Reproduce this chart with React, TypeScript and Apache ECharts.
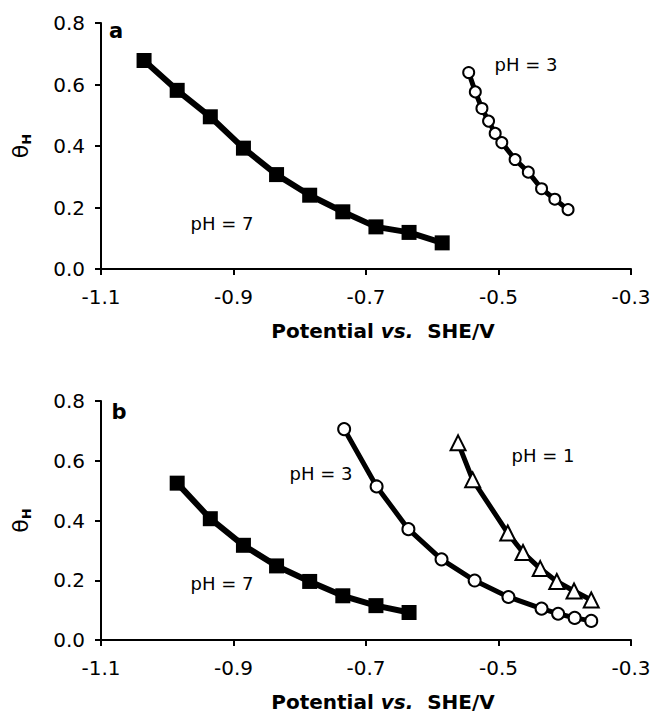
import React, { useEffect, useRef } from "react";
import * as echarts from "echarts";

// Panel a
const aPH7X = [-1.035, -0.985, -0.935, -0.885, -0.835, -0.785, -0.735, -0.685, -0.635, -0.585];
const aPH7Y = [0.678, 0.581, 0.495, 0.393, 0.307, 0.240, 0.186, 0.137, 0.119, 0.085];
const aPH3X = [-0.545, -0.535, -0.525, -0.515, -0.505, -0.495, -0.475, -0.455, -0.435, -0.415, -0.395];
const aPH3Y = [0.639, 0.576, 0.522, 0.481, 0.441, 0.411, 0.356, 0.315, 0.261, 0.227, 0.193];

// Panel b
const bPH7X = [-0.985, -0.935, -0.885, -0.835, -0.785, -0.735, -0.685, -0.635];
const bPH7Y = [0.525, 0.406, 0.317, 0.248, 0.196, 0.148, 0.115, 0.092];
const bPH3X = [-0.733, -0.684, -0.636, -0.586, -0.536, -0.485, -0.435, -0.410, -0.385, -0.360];
const bPH3Y = [0.706, 0.514, 0.371, 0.270, 0.199, 0.144, 0.105, 0.088, 0.074, 0.064];
const bPH1X = [-0.561, -0.539, -0.486, -0.463, -0.437, -0.412, -0.386, -0.360];
const bPH1Y = [0.660, 0.536, 0.358, 0.293, 0.239, 0.196, 0.164, 0.134];

const xMin = -1.1;
const xMax = -0.3;
const xStep = 0.2;
const yMin = 0;
const yMax = 0.8;
const yStep = 0.2;

const xTitle = "Potential {i|vs.}  SHE/V";
const yTitle = "{t|θ}{s|H}";

const FONT = "DejaVu Sans";

const zip = (xs: number[], ys: number[]) => xs.map((x, i) => [x, ys[i]]);

export default function App() {
  const ref = useRef<HTMLDivElement>(null);
  useEffect(() => {
    if (!ref.current) return;
    const chart = echarts.init(ref.current, null, { renderer: "svg" });
    const axisCommon = {
      axisLine: { show: true, onZero: false, lineStyle: { color: "#000", width: 2 } },
      axisTick: { show: true, inside: false, length: 6, lineStyle: { color: "#000", width: 2 } },
      splitLine: { show: false },
    };
    const makeX = (gridIndex: number) => ({
      type: "value",
      gridIndex,
      min: xMin,
      max: xMax,
      interval: xStep,
      ...axisCommon,
      axisLabel: {
        margin: 18,
        color: "#000",
        fontSize: 20,
        fontFamily: FONT,
        formatter: (v: number) => v.toFixed(1),
      },
      name: xTitle,
      nameLocation: "middle",
      nameGap: 52,
      nameTextStyle: {
        color: "#000",
        fontSize: 20,
        fontWeight: "bold",
        fontFamily: FONT,
        padding: [0, 0, 0, 34],
        rich: {
          i: { fontSize: 20, fontWeight: "bold", fontStyle: "italic", fontFamily: FONT, color: "#000" },
        },
      },
    });
    const makeY = (gridIndex: number) => ({
      type: "value",
      gridIndex,
      min: yMin,
      max: yMax,
      interval: yStep,
      ...axisCommon,
      axisLabel: {
        margin: 16,
        color: "#000",
        fontSize: 20,
        fontFamily: FONT,
        formatter: (v: number) => v.toFixed(1),
      },
      name: yTitle,
      nameLocation: "middle",
      nameGap: 68,
      nameTextStyle: {
        color: "#000",
        fontFamily: FONT,
        rich: {
          t: { fontSize: 22, lineHeight: 26, fontFamily: FONT, color: "#000", verticalAlign: "middle" },
          s: { fontSize: 13, lineHeight: 13, fontFamily: FONT, color: "#000", verticalAlign: "bottom", fontWeight: "bold" },
        },
      },
    });
    const lineSeries = (
      data: number[][],
      xi: number,
      symbol: string,
      size: number,
      filled: boolean,
      lw: number
    ) => ({
      type: "line",
      xAxisIndex: xi,
      yAxisIndex: xi,
      data,
      symbol,
      symbolSize: size,
      showAllSymbol: true,
      lineStyle: { color: "#000", width: lw },
      itemStyle: filled
        ? { color: "#000", borderColor: "#000", borderWidth: 0 }
        : { color: "#fff", borderColor: "#000", borderWidth: 2 },
      z: 3,
    });
    const textEl = (x: number, y: number, text: string, size: number, bold: boolean) => ({
      type: "text",
      x,
      y,
      style: {
        text,
        fontSize: size,
        fontFamily: FONT,
        fontWeight: bold ? "bold" : "normal",
        fill: "#000",
        align: "center",
        verticalAlign: "middle",
      },
      z: 10,
    });
    chart.setOption({
      animation: false,
      backgroundColor: "#fff",
      grid: [
        { left: 101, top: 23, width: 530, height: 246 },
        { left: 101, top: 401, width: 530, height: 239 },
      ],
      xAxis: [makeX(0), makeX(1)],
      yAxis: [makeY(0), makeY(1)],
      series: [
        lineSeries(zip(aPH7X, aPH7Y), 0, "rect", 15, true, 6),
        lineSeries(zip(aPH3X, aPH3Y), 0, "circle", 11, false, 5),
        lineSeries(zip(bPH7X, bPH7Y), 1, "rect", 15, true, 6),
        lineSeries(zip(bPH3X, bPH3Y), 1, "circle", 12, false, 5),
        lineSeries(zip(bPH1X, bPH1Y), 1, "triangle", 15, false, 5),
      ],
      graphic: [
        textEl(116, 31, "a", 21, true),
        textEl(119, 412, "b", 21, true),
        textEl(526, 64, "pH = 3", 18, false),
        textEl(222, 223, "pH = 7", 18, false),
        textEl(321, 473, "pH = 3", 18, false),
        textEl(543, 455, "pH = 1", 18, false),
        textEl(222, 583, "pH = 7", 18, false),
      ],
    });
    return () => chart.dispose();
  }, []);
  return (
    <div
      ref={ref}
      style={{ position: "fixed", left: 0, top: 0, width: 663, height: 718, background: "#fff" }}
    />
  );
}
